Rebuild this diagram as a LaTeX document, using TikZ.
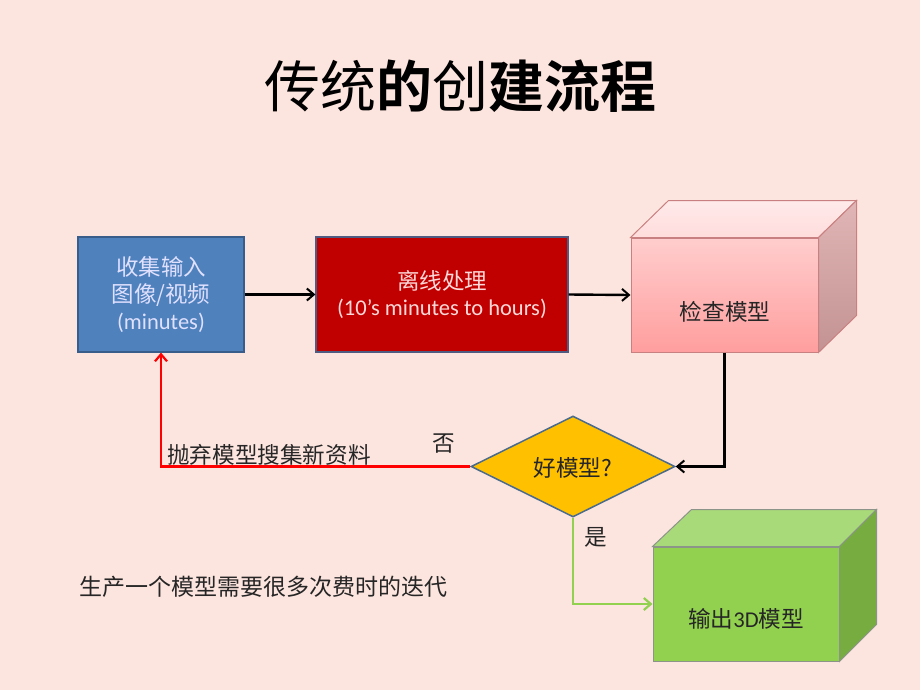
\documentclass[tikz,border=0pt]{standalone}
\usepackage{fontspec}
\setmainfont{Carlito}
\newfontfamily\cjk{Noto Sans CJK SC}
\newfontfamily\cjkb{Noto Sans CJK SC Bold}
\usetikzlibrary{arrows.meta,shapes.geometric}
\definecolor{bg}{HTML}{FDE5DF}
\definecolor{blueF}{HTML}{4F81BD}
\definecolor{blueD}{HTML}{385D8A}
\definecolor{redF}{HTML}{C00000}
\definecolor{redD}{HTML}{4F5B80}
\definecolor{pinkT}{HTML}{FFCDCD}
\definecolor{pinkB}{HTML}{FF9E9E}
\definecolor{pinkTop}{HTML}{FFDCDC}
\definecolor{pinkSide}{HTML}{D9A3A3}
\definecolor{pinkD}{HTML}{C98080}
\definecolor{goldF}{HTML}{FFC000}
\definecolor{goldD}{HTML}{4A6B8C}
\definecolor{greenF}{HTML}{92D050}
\definecolor{greenTop}{HTML}{A9DA79}
\definecolor{greenSide}{HTML}{76AC40}
\definecolor{greenD}{HTML}{8C948A}
\definecolor{lineR}{HTML}{FF0000}
\definecolor{lineG}{HTML}{92D050}
\tikzset{
  flatbox/.style={rectangle, line width=1.2pt, inner sep=0pt, align=center},
  lbl/.style={font=\fontsize{22.6}{27}\selectfont, inner sep=0pt, align=center},
  arr/.style={line width=2.4pt, -{Straight Barb[length=7pt,width=12pt,line width=2pt]}},
  redarr/.style={draw=lineR, line width=2.6pt, -{Straight Barb[length=7pt,width=12pt,line width=2.2pt]}},
  greenarr/.style={draw=lineG, line width=2.8pt, -{Straight Barb[length=7pt,width=12pt,line width=2.2pt]}},
}
\begin{document}
\begin{tikzpicture}[x=1pt,y=-1pt]
\fill[bg] (0,0) rectangle (920,690);
\useasboundingbox (0,0) rectangle (920,690);

\node[inner sep=0pt, font=\fontsize{56}{60}\selectfont] (title) at (460,86)
  {\cjk 传统\cjkb 的\cjk 创\cjkb 建流程};

% box 1
\node[flatbox, fill=blueF, draw=blueD, minimum width=166pt, minimum height=115pt,
  text=white!88!blue, font=\fontsize{22.5}{27}\selectfont] (collect) at (161,294.5)
  {{\cjk 收集输入}\\{\cjk 图像/视频}\\(minutes)};

% box 2
\node[flatbox, fill=redF, draw=redD, minimum width=252pt, minimum height=115pt,
  text=white!85!red, font=\fontsize{22.5}{26}\selectfont] (offline) at (442,294.5)
  {{\cjk 离线处理}\\(10’s minutes to hours)};

% pink cube
\node[rectangle, line width=1pt, draw=pinkD, top color=pinkT, bottom color=pinkB,
  minimum width=187pt, minimum height=114pt, inner sep=0pt] (check) at (724.5,295) {};
\draw[draw=pinkD, line width=1pt, top color=pinkTop!60!white, bottom color=pinkTop]
  (check.north west) -- ++(38,-37)
  -- ([shift={(38,-37)}]check.north east) -- (check.north east) -- cycle;
\draw[draw=pinkD, line width=1pt, top color=pinkSide!80!white, bottom color=pinkSide!90!black]
  (check.north east) -- ([shift={(38,-37)}]check.north east)
  -- ([shift={(38,-37)}]check.south east) -- (check.south east) -- cycle;
\node[lbl, text=black!85] (checkT) at (725,312) {\cjk 检查模型};

% diamond
\node[diamond, aspect=2, fill=goldF, draw=goldD, line width=1.5pt, inner sep=0pt,
  minimum width=204pt, minimum height=101pt] (good) at (573,466.5) {};
\node[lbl, text=black!85] (goodT) at (573,468) {\cjk 好模型?};

% green cube
\node[rectangle, line width=1pt, draw=greenD, fill=greenF,
  minimum width=186pt, minimum height=114pt, inner sep=0pt] (output) at (746,604) {};
\draw[draw=greenD, line width=1pt, fill=greenTop] (output.north west) -- ++(39,-37)
  -- ([shift={(37,-37)}]output.north east) -- (output.north east) -- cycle;
\draw[draw=greenD, line width=1pt, fill=greenSide]
  (output.north east) -- ([shift={(37,-37)}]output.north east)
  -- ([shift={(37,-37)}]output.south east) -- (output.south east) -- cycle;
\node[lbl, text=black!85] (outputT) at (746,619) {{\cjk 输出}3D{\cjk 模型}};

% connectors
\draw[arr] (collect.east) -- (offline.west);
\draw[arr] (offline.east) -- (check.west);
\draw[arr] (check.south) |- (good.east);
\draw[redarr] (good.west) -| (collect.south);
\draw[greenarr] (good.south) |- (output.west);

% labels
\node[lbl, anchor=west, text=black!85] (discard) at (167,455) {\cjk 抛弃模型搜集新资料};
\node[lbl, text=black!85] (no) at (444,444) {\cjk 否};
\node[lbl, text=black!85] (yes) at (596,537) {\cjk 是};
\node[lbl, anchor=west, text=black!85, font=\fontsize{23}{27}\selectfont] (note) at (79,587)
  {\cjk 生产一个模型需要很多次费时的迭代};
\end{tikzpicture}
\end{document}
